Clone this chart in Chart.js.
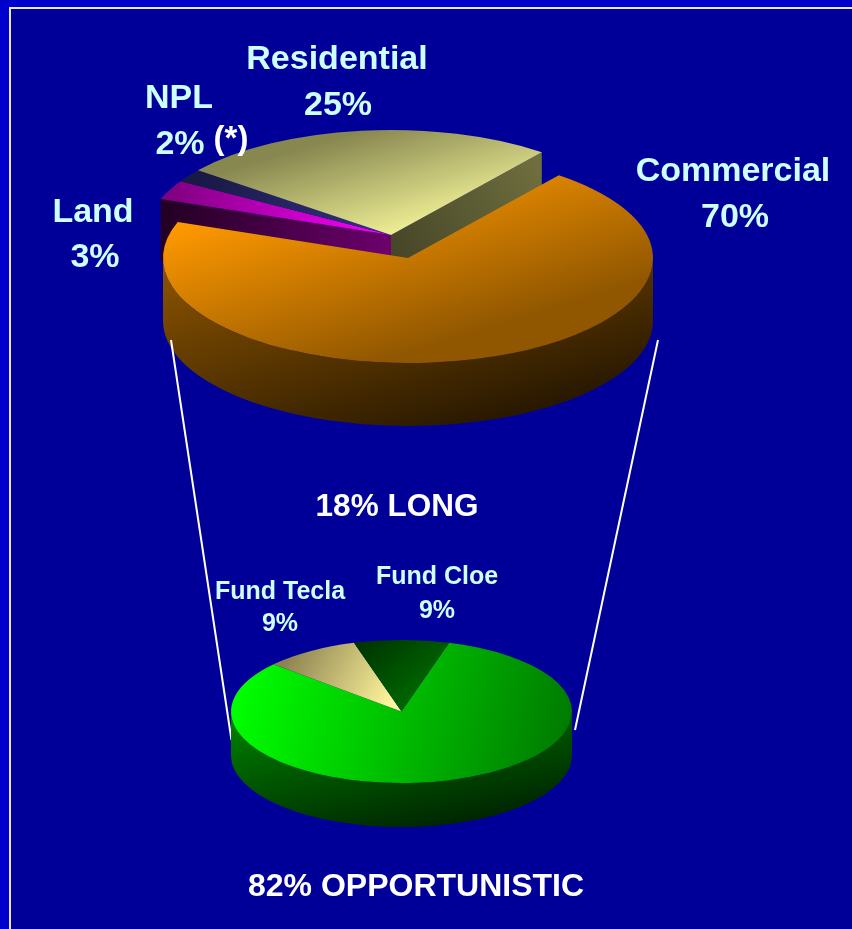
<!DOCTYPE html>
<html>
<head>
<meta charset="utf-8">
<script src="https://cdn.jsdelivr.net/npm/chart.js@4"></script>
<style>
html,body{margin:0;padding:0;width:852px;height:929px;overflow:hidden;background:#0000CC;}
#panel{position:absolute;left:9px;top:7px;width:843px;height:922px;box-sizing:border-box;background:#000099;border-left:2px solid #E6E6F5;border-top:2px solid #E6E6F5;}
canvas{position:absolute;left:0;top:0;}
.t{position:absolute;white-space:nowrap;font-family:"Liberation Sans",Arial,sans-serif;font-weight:bold;line-height:1.117;transform:translateX(-50%);}
</style>
</head>
<body>
<div id="panel"></div>
<canvas id="top" width="852" height="929"></canvas>
<canvas id="bottom" width="852" height="929"></canvas>
<script>
// ---- data ----
const topCategories = ['Commercial', 'Land', 'NPL', 'Residential'];
const topValues = [70, 3, 2, 25];
const bottomCategories = ['Opportunistic', 'Fund Tecla', 'Fund Cloe'];
const bottomValues = [82, 9, 9];
const captions = ['18% LONG', '82% OPPORTUNISTIC'];
const footnoteMark = '(*)';

// ---- geometry of the two tilted pies (screen pixels) ----
const topPie = {cx: 408, cy: 258, r: 245, ry: 105, depth: 63, rotation: 38};
const bottomPie = {cx: 401.5, cy: 711.5, r: 170.5, ry: 71.5, depth: 44, rotation: 16.2};
const topShift = [[0, 0], [-17, -23], [-17, -23], [-17, -23]];
const bottomShift = [[0, 0], [0, 0], [0, 0]];

// ---- gradient styles: screen x0,y0,x1,y1 then colours ----
const topFace = [
  [178, 224, 234, 406, '#FF9900', '#915700'],
  [391, 235, 170, 190, '#FF00FF', '#800080'],
  [391, 235, 203, 167, '#333385', '#191945'],
  [400, 119, 432, 227, '#878750', '#F2F298']
];
const topRim = [[163, 270, 227, 497, '#8A5300', '#281800'], null, null, null];
const topCut = [null, [391, 258, 165, 210, '#6E006E', '#230023'], null, [391, 250, 541, 170, '#464628', '#6E6E3E']];
const bottomFace = [
  [240, 680, 570, 760, '#00FF00', '#007800'],
  [290, 650, 390, 705, '#8C8250', '#FFF59B'],
  [370, 640, 420, 700, '#003700', '#006900']
];
const bottomRim = [[232, 725, 262, 875, '#007D00', '#001E00'], null, null];

// ---- connector lines from the top pie to the bottom pie ----
const connectors = [[171, 340, 231.5, 740], [658, 340, 575, 730]];

function grad(ctx, s, g) {
  // keep the colour bands straight on screen after the pie is squashed by k
  const k = g.ry / g.r;
  const dx = s[2] - s[0], dy = s[3] - s[1], len2 = dx * dx + dy * dy;
  const a = dx / len2, b = dy / len2 * k;
  const n = a * a + b * b;
  const x0 = s[0], y0 = g.cy + (s[1] - g.cy) / k;
  const lg = ctx.createLinearGradient(x0, y0, x0 + a / n, y0 + b / n);
  lg.addColorStop(0, s[4]); lg.addColorStop(1, s[5]);
  return lg;
}
function screenGrad(ctx, s) {
  const lg = ctx.createLinearGradient(s[0], s[1], s[2], s[3]);
  lg.addColorStop(0, s[4]); lg.addColorStop(1, s[5]);
  return lg;
}

const tiltPlugin = {
  id: 'tilt',
  beforeDatasetsDraw(chart, args, opts) {
    const ctx = chart.ctx, g = opts.geo, k = g.ry / g.r;
    const arcs = chart.getDatasetMeta(0).data;
    const groups = [...new Set(opts.shift.map(s => s.join()))]
      .sort((a, b) => +a.split(',')[1] - +b.split(',')[1]);
    for (const key of groups) {
      const idx = arcs.map((a, i) => i).filter(i => opts.shift[i].join() === key);
      // walls first
      for (const i of idx) {
        const a = arcs[i], [dx, dy] = opts.shift[i];
        const x = a.x + dx, y = a.y + dy, r = a.outerRadius;
        if (opts.rim[i]) {
          // front half of the rim: canvas angles 0..PI
          const s = Math.max(a.startAngle, 0), e = Math.min(a.endAngle, Math.PI);
          if (e > s) {
            ctx.beginPath();
            ctx.ellipse(x, y, r, r * k, 0, s, e, false);
            ctx.lineTo(x + r * Math.cos(e), y + r * k * Math.sin(e) + g.depth);
            ctx.ellipse(x, y + g.depth, r, r * k, 0, e, s, true);
            ctx.closePath();
            ctx.fillStyle = screenGrad(ctx, opts.rim[i]);
            ctx.fill();
          }
        }
        if (opts.cut[i]) {
          // radial face exposed by the separation of the group
          const ang = opts.shift[(i + 1) % arcs.length].join() !== key ? a.endAngle : a.startAngle;
          const px = x + r * Math.cos(ang), py = y + r * k * Math.sin(ang);
          ctx.beginPath();
          ctx.moveTo(x, y); ctx.lineTo(px, py);
          ctx.lineTo(px, py + g.depth); ctx.lineTo(x, y + g.depth);
          ctx.closePath();
          ctx.fillStyle = screenGrad(ctx, opts.cut[i]);
          ctx.fill();
        }
      }
      // then the faces, drawn by the library's own arc elements
      for (const i of idx) {
        const [dx, dy] = opts.shift[i];
        ctx.save();
        ctx.translate(dx, dy);
        ctx.translate(g.cx, g.cy); ctx.scale(1, k); ctx.translate(-g.cx, -g.cy);
        arcs[i].draw(ctx);
        ctx.restore();
      }
    }
    if (opts.lines) {
      ctx.save();
      ctx.strokeStyle = '#FFFFFF'; ctx.lineWidth = 2;
      for (const l of opts.lines) {
        ctx.beginPath(); ctx.moveTo(l[0], l[1]); ctx.lineTo(l[2], l[3]); ctx.stroke();
      }
      ctx.restore();
    }
    return false;
  }
};

function makePie(id, geo, labels, values, face, rim, cut, shift, lines) {
  const canvas = document.getElementById(id);
  const ctx = canvas.getContext('2d');
  return new Chart(ctx, {
    type: 'pie',
    data: {labels, datasets: [{data: values, borderWidth: 0, backgroundColor: face.map(s => grad(ctx, s, geo))}]},
    options: {
      responsive: false, animation: false, rotation: geo.rotation,
      events: [],
      layout: {padding: {left: geo.cx - geo.r, right: 852 - geo.cx - geo.r, top: geo.cy - geo.r, bottom: 929 - geo.cy - geo.r}},
      plugins: {legend: {display: false}, tooltip: {enabled: false}, title: {display: false},
        tilt: {geo, shift, rim, cut, lines}}
    },
    plugins: [tiltPlugin]
  });
}
// colour stops of the exploded group are given in screen space, so shift them back
const shiftBack = (s, d) => s && [s[0] - d[0], s[1] - d[1], s[2] - d[0], s[3] - d[1], s[4], s[5]];
makePie('top', topPie, topCategories, topValues, topFace.map((s, i) => shiftBack(s, topShift[i])), topRim, topCut, topShift, connectors);
makePie('bottom', bottomPie, bottomCategories, bottomValues, bottomFace, bottomRim, [null, null, null], bottomShift, null);

// ---- text ----
function text(str, cx, base, size, color) {
  const d = document.createElement('div');
  d.className = 't'; d.textContent = str;
  d.style.left = cx + 'px';
  d.style.top = (base + 2 - 0.905 * size) + 'px';
  d.style.fontSize = size + 'px';
  d.style.color = color;
  document.body.appendChild(d);
}
const LABEL = '#CCFFFF', WHITE = '#FFFFFF';
const topLabelPos = [[733, 180, 735, 226], [93, 221, 95, 266], [179, 107, 180, 153], [337, 68, 338, 114]];
topCategories.forEach((c, i) => {
  const p = topLabelPos[i];
  text(c, p[0], p[1], 34, LABEL);
  text(topValues[i] + '%', p[2], p[3], 34, LABEL);
});
const bottomLabelPos = {1: [280, 598, 280, 630], 2: [437, 583, 437, 617]};
[1, 2].forEach(i => {
  const p = bottomLabelPos[i];
  text(bottomCategories[i], p[0], p[1], 25, LABEL);
  text(bottomValues[i] + '%', p[2], p[3], 25, LABEL);
});
text(footnoteMark, 231, 148, 33, WHITE);
text(captions[0], 397, 515, 31.5, WHITE);
text(captions[1], 416, 895, 32, WHITE);
</script>
</body>
</html>
